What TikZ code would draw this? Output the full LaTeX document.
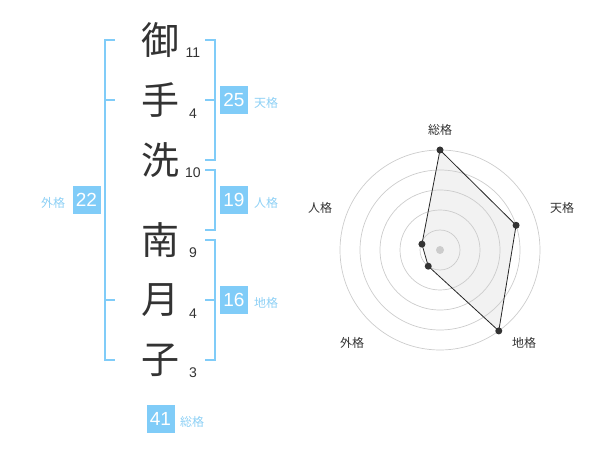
\documentclass[tikz,border=0pt]{standalone}
\usepackage{fontspec}
\usetikzlibrary{calc}
\setmainfont{Liberation Sans}
\newfontfamily\cjk{Noto Sans CJK JP}
\definecolor{bblue}{HTML}{80CCF8}
\definecolor{lblue}{HTML}{8DD0F5}
\definecolor{dtext}{HTML}{333333}
\definecolor{ring}{HTML}{CCCCCC}
\definecolor{area}{HTML}{F2F2F2}
\begin{document}
\begin{tikzpicture}[x=1pt,y=-1pt,
  kanji/.style={font=\cjk\fontsize{38}{38}\selectfont,text=dtext,inner sep=0pt},
  strokes/.style={font=\fontsize{14}{14}\selectfont,text=dtext,inner sep=0pt},
  valbox/.style={fill=bblue,text=white,minimum width=28pt,minimum height=28pt,inner sep=0pt,font=\fontsize{19}{19}\selectfont},
  kaku/.style={font=\cjk\fontsize{12}{12}\selectfont,text=lblue,inner sep=0pt},
  bracket/.style={draw=bblue,line width=2pt},
  axislabel/.style={font=\cjk\fontsize{12}{12}\selectfont,text=dtext,inner sep=0pt},
  dot/.style={circle,fill=dtext,minimum size=7pt,inner sep=0pt},
]
\useasboundingbox (0,0) rectangle (600,470);
% name characters
\node[kanji] (k1) at (160,40) {御};
\node[kanji] (k2) at (160,100) {手};
\node[kanji] (k3) at (160,160) {洗};
\node[kanji] (k4) at (160,240) {南};
\node[kanji] (k5) at (160,300) {月};
\node[kanji] (k6) at (160,360) {子};
% stroke counts
\node[strokes] (s1) at (193,52.7) {11};
\node[strokes] (s2) at (193,113.3) {4};
\node[strokes] (s3) at (193,172.7) {10};
\node[strokes] (s4) at (193,252.3) {9};
\node[strokes] (s5) at (193,313.3) {4};
\node[strokes] (s6) at (193,372.7) {3};
% brackets
\draw[bracket] (115,40) -- (105,40) -- (105,360) -- (115,360);
\draw[bracket] (105,100) -- (115,100);
\draw[bracket] (105,300) -- (115,300);
\draw[bracket] (205,40) -- (215,40) -- (215,160) -- (205,160);
\draw[bracket] (205,100) -- (215,100);
\draw[bracket] (205,170) -- (215,170) -- (215,230) -- (205,230);
\draw[bracket] (205,240) -- (215,240) -- (215,360) -- (205,360);
\draw[bracket] (205,300) -- (215,300);
% value boxes
\node[valbox] (ten) at (234,100) {25};
\node[kaku] (tenl) at (266,103) {天格};
\node[valbox] (jin) at (234,200) {19};
\node[kaku] (jinl) at (266,203) {人格};
\node[valbox] (chi) at (234,300) {16};
\node[kaku] (chil) at (266,303) {地格};
\node[valbox] (gai) at (86.5,200) {22};
\node[kaku] (gail) at (53,203) {外格};
\node[valbox] (sou) at (160.5,419) {41};
\node[kaku] (soul) at (192,422) {総格};
% radar chart
\coordinate (c) at (440,250);
\coordinate (pS) at ($(c)+(-90:100)$);
\coordinate (pT) at ($(c)+(-18:80)$);
\coordinate (pC) at ($(c)+(54:100)$);
\coordinate (pG) at ($(c)+(126:20)$);
\coordinate (pJ) at ($(c)+(-162:19)$);
\fill[area] (pS) -- (pT) -- (pC) -- (pG) -- (pJ) -- cycle;
\foreach \r in {20,40,60,80,100} \draw[ring,line width=0.7pt] (c) circle (\r);
\fill[ring] (c) circle (4);
\draw[draw=black!85,line width=0.8pt] (pS) -- (pT) -- (pC) -- (pG) -- (pJ) -- cycle;
\foreach \p in {pS,pT,pC,pG,pJ} \node[dot] at (\p) {};
\node[axislabel] (aS) at (440,130) {総格};
\node[axislabel] (aT) at (562,208) {天格};
\node[axislabel] (aJ) at (320,208) {人格};
\node[axislabel] (aG) at (352,343) {外格};
\node[axislabel] (aC) at (524,343) {地格};
\end{tikzpicture}
\end{document}
